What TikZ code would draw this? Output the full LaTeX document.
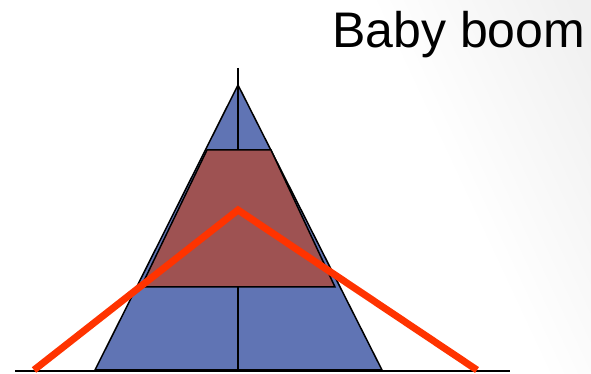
\documentclass[tikz,border=0pt]{standalone}
\usepackage{fontspec}
\setmainfont{Liberation Sans}
\definecolor{pyrblue}{RGB}{96,116,180}
\definecolor{pyrred}{RGB}{158,82,82}
\definecolor{boomline}{RGB}{255,51,0}
\pgfdeclarehorizontalshading{bgfade}{100bp}{color(0bp)=(white); color(64bp)=(white); color(82bp)=(black!6); color(100bp)=(black!6)}
\begin{document}
\begin{tikzpicture}[x=1pt,y=1pt,
  outline/.style={draw=black,line width=1.5pt,line join=miter},
  axisline/.style={draw=black,line width=2pt},
  trend/.style={draw=boomline,line width=7pt,line join=miter}]
\useasboundingbox (0,0) rectangle (591,374);
\shade[shading=bgfade,shading angle=25] (0,0) rectangle (591,374);
% title
\node[anchor=base west,inner sep=0pt,font=\fontsize{50}{60}\selectfont] (title) at (332,326) {Baby boom};
% pyramid
\path[fill=pyrblue,outline] (95,4) -- (238,289) -- (382,4) -- cycle;
\draw[axisline] (238,306) -- (238,4);
\draw[axisline] (15,3) -- (510,3);
% baby boom cohort band
\path[fill=pyrred,outline] (207,224) -- (271,224) -- (335,87) -- (141,87) -- cycle;
% trend line
\draw[trend] (34,4) -- (238,164) -- (477,4);
\end{tikzpicture}
\end{document}
